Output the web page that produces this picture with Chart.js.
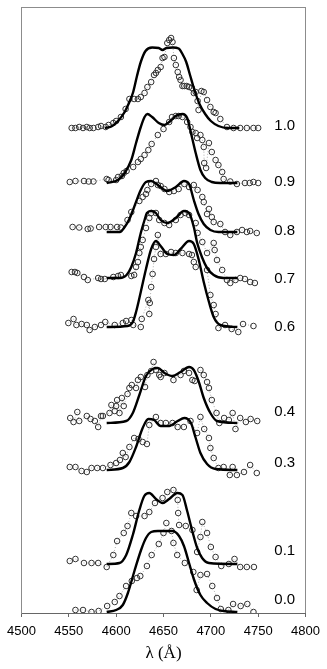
<!DOCTYPE html>
<html><head><meta charset="utf-8">
<script src="https://cdn.jsdelivr.net/npm/chart.js@4.4.1/dist/chart.umd.min.js"></script>
<style>html,body{margin:0;padding:0;background:#fff}canvas{display:block}</style>
</head><body>
<canvas id="c" width="327" height="669"></canvas>
<script>
// Phase labels, vertical offsets (continuum level of each profile) and label levels
const phases = ['1.0','0.9','0.8','0.7','0.6','0.4','0.3','0.1','0.0'];
const offsets = [4.85, 4.30, 3.81, 3.35, 2.86, 1.90, 1.43, 0.49, 0.01];
const labelLevels = [4.87, 4.31, 3.82, 3.34, 2.86, 2.01, 1.50, 0.62, 0.13];
const xTicks = [4500, 4550, 4600, 4650, 4700, 4750, 4800];

// Model profiles (solid lines): wavelength (Å) and relative flux above continuum
const line10L = [4588,4595,4602,4609,4614,4618,4622,4626,4631,4638,4645,4649,4653,4660,4666,4670,4674,4678,4682,4688,4694,4700,4708,4718,4730];
const line10V = [0,0.015,0.07,0.16,0.26,0.36,0.52,0.66,0.77,0.805,0.80,0.78,0.80,0.805,0.795,0.74,0.66,0.53,0.40,0.24,0.14,0.07,0.02,0,0];
const line09L = [4590,4602,4609,4616,4621,4626,4630,4633,4638,4645,4651,4656,4663,4670,4675,4680,4684,4689,4694,4701,4710,4728];
const line09V = [0,0.03,0.10,0.23,0.40,0.56,0.66,0.69,0.66,0.60,0.58,0.61,0.67,0.69,0.65,0.46,0.30,0.13,0.05,0.01,0,0];
const line08L = [4590,4604,4609,4614,4619,4626,4631.5,4637,4644,4654,4663,4671.6,4677,4682,4687,4692.5,4699.5,4708,4728];
const line08V = [0,0,0.05,0.13,0.25,0.42,0.50,0.51,0.47,0.41,0.45,0.51,0.48,0.32,0.18,0.08,0.02,0,0];
const line07L = [4590,4604,4611,4616,4621,4626,4630,4632.5,4637,4642,4647,4654,4663,4671.6,4677,4682,4685.6,4691,4696,4703,4713.5,4728];
const line07V = [0,0,0.03,0.11,0.25,0.45,0.58,0.65,0.67,0.65,0.58,0.55,0.60,0.67,0.65,0.51,0.35,0.20,0.10,0.03,0,0];
const line06L = [4590,4612,4617.6,4621,4626,4631.5,4637,4642,4647,4654,4661,4668,4677,4682,4687,4692.5,4698,4703,4710,4728];
const line06V = [0,0.01,0.05,0.15,0.35,0.58,0.78,0.86,0.81,0.73,0.72,0.78,0.86,0.83,0.68,0.45,0.25,0.10,0.02,0];
const line04L = [4590,4610.6,4617.6,4624.5,4631.5,4638.5,4644,4651,4659.5,4668,4677,4682,4687,4692.5,4699.5,4706.5,4728];
const line04V = [0,0.02,0.10,0.28,0.47,0.54,0.55,0.50,0.47,0.51,0.56,0.53,0.42,0.25,0.10,0.02,0];
const line03L = [4590,4607,4614,4621,4628,4634,4640,4647,4656,4665,4672,4679,4684,4689,4696,4705,4728];
const line03V = [0,0.02,0.08,0.23,0.42,0.51,0.50,0.44,0.44,0.49,0.52,0.47,0.32,0.17,0.06,0.01,0];
const line01L = [4590,4603.6,4610.6,4617.6,4624.5,4629.7,4635,4642,4649,4656,4664.7,4670,4675,4680.4,4685.6,4690.8,4698,4728];
const line01V = [0,0.01,0.09,0.29,0.54,0.68,0.71,0.65,0.61,0.65,0.71,0.69,0.53,0.33,0.16,0.06,0.01,0];
const line00L = [4590,4600,4607,4612.4,4619.3,4626.3,4631.5,4637,4644,4652.5,4659.5,4666.4,4671.6,4677,4682,4689,4696,4705,4713.5,4728];
const line00V = [0,0.02,0.07,0.19,0.41,0.62,0.74,0.80,0.81,0.81,0.81,0.76,0.66,0.49,0.33,0.17,0.09,0.03,0.01,0];

// Observed profiles (open circles): wavelength (Å) and relative flux above continuum
const obs10L = [4553,4557,4561,4565,4569,4572,4576,4581,4584,4589,4592,4597,4600,4605,4610,4614,4619,4623,4626,4630,4633,4637,4640,4642,4644,4647,4649,4651,4654,4656,4658,4659.5,4661,4663,4665,4666.5,4668,4670,4672,4674.5,4677,4680,4682,4684,4686,4687,4690,4692.5,4696,4699.5,4703,4705,4710,4717,4724,4731,4738,4745,4750];
const obs10V = [0,0,0.01,0,0.01,0,0,0.01,0.02,0.01,0.03,0.05,0.07,0.11,0.19,0.29,0.29,0.29,0.31,0.35,0.41,0.46,0.53,0.55,0.58,0.61,0.70,0.71,0.85,0.88,0.90,0.86,0.70,0.63,0.56,0.51,0.48,0.42,0.42,0.42,0.41,0.40,0.35,0.36,0.27,0.18,0.37,0.36,0.28,0.21,0.16,0.15,0.09,0.01,0,0,0,0,0];
const obs09L = [4551,4557,4566,4571,4576,4590,4592,4600,4602,4606,4608,4611,4618,4623,4626,4630,4634,4637.5,4644,4650,4656,4659,4663,4666,4670,4675,4678.5,4680.5,4684,4685.5,4689,4691,4692.5,4693,4695,4698,4701,4705,4708,4712,4713.5,4720.5,4727.5,4736,4741,4745,4750];
const obs09V = [0.01,0.02,0.02,0.015,0.015,0.04,0.03,0.03,0.06,0.07,0.10,0.12,0.16,0.21,0.24,0.28,0.33,0.39,0.48,0.54,0.61,0.66,0.67,0.67,0.66,0.61,0.56,0.51,0.50,0.45,0.48,0.43,0.36,0.20,0.15,0.40,0.31,0.23,0.18,0.11,0.04,0.015,-0.01,0,0,0.01,0];
const obs08L = [4554,4561,4570,4573,4582,4589,4594,4601,4605,4612,4616,4624.5,4628,4631.5,4633,4637,4642,4644,4647,4651,4656,4661,4666,4672,4677,4682,4686,4691,4692.5,4696,4698,4701,4703,4710,4715,4720.5,4727.5,4733,4738,4741.5,4748.5];
const obs08V = [0.05,0.045,0.03,0.035,0.05,0.05,0.05,0.05,0.045,0.12,0.20,0.31,0.35,0.38,0.42,0.48,0.51,0.47,0.46,0.43,0.40,0.41,0.43,0.48,0.45,0.47,0.42,0.35,0.30,0.18,0.23,0.15,0.10,0.08,0,-0.03,0,0.02,0,0.01,-0.01];
const obs07L = [4553,4556.5,4559,4566,4570,4581,4584,4588,4597,4602,4605,4616,4619,4621,4623,4624.5,4626,4628,4631.5,4635,4637,4642,4645.5,4651,4656,4663,4668,4673,4677,4684,4686,4691,4696,4703,4704,4706.5,4712,4717,4720.5,4726,4731,4736,4741.5,4746.5];
const obs07V = [0.06,0.06,0.05,0.01,-0.02,0,-0.01,-0.01,0.01,0.02,0.03,0.02,0.03,0.11,0.16,0.25,0.31,0.38,0.50,0.60,0.65,0.65,0.58,0.55,0.53,0.58,0.63,0.65,0.63,0.55,0.45,0.36,0.25,0.35,0.28,0.18,0.08,-0.02,-0.05,-0.02,0,-0.01,-0.04,-0.05];
const obs06L = [4549.5,4555,4558,4563.5,4569,4572,4577.5,4584,4588.5,4598.5,4607,4610.5,4616,4618,4626,4627,4634,4635,4635.5,4637,4638.5,4640,4642,4644,4647,4652.5,4658,4663,4670,4677,4680,4682,4684,4696,4699.5,4703,4705,4708,4715,4722,4729,4734,4745];
const obs06V = [0.04,0.08,0.02,0.03,0.02,-0.03,0,0.02,0.05,0.02,0.04,0.06,0.07,0.02,0,0.08,0.27,0.13,0.24,0.40,0.53,0.68,0.80,0.92,0.73,0.73,0.75,0.74,0.74,0.73,0.72,0.65,0.60,0.57,0.32,0.22,0.13,-0.01,0.02,-0.02,-0.05,0.03,0.01];
const obs04L = [4551.5,4555,4559,4561,4569,4573,4577.5,4581,4584,4586,4593,4595,4598.5,4600,4601,4603.5,4606,4608,4612,4614,4616.5,4621,4623,4626,4630.5,4633,4637,4639.5,4642,4645.5,4647,4651,4660.5,4668,4671.5,4677,4680.5,4683,4689,4692.5,4696,4698,4701,4706,4709,4714,4719,4723,4726,4731,4737,4742,4749];
const obs04V = [0.05,0.01,0.11,0.02,0.07,0.04,0.02,-0.04,0.07,0.07,0.10,0.18,0.12,0.17,0.23,0.10,0.25,0.17,0.29,0.35,0.38,0.35,0.43,0.46,0.36,0.48,0.52,0.61,0.53,0.48,0.46,0.50,0.43,0.48,0.52,0.50,0.43,0.42,0.53,0.48,0.41,0.35,0.23,0.10,0,0.05,0.03,0.10,-0.06,0.05,0.01,0.04,0.02];
const obs03L = [4551,4557,4563.5,4569,4574,4580,4586,4594,4600,4604,4607,4610,4614,4619,4623.5,4628,4632.5,4635,4642,4647,4652.5,4659.5,4665,4671.5,4678.5,4685.5,4689,4693,4698,4699.5,4703,4708,4713.5,4720,4723,4727.5,4735,4741.5,4748.5];
const obs03V = [0.03,0.03,-0.01,-0.02,0.02,0.02,0.02,0.05,0.07,0.10,0.17,0.13,0.23,0.32,0.31,0.28,0.26,0.45,0.53,0.47,0.47,0.47,0.43,0.43,0.49,0.37,0.53,0.41,0.32,0.22,0.12,0.02,0.03,-0.05,0.03,-0.05,-0.02,0.05,-0.03];
const obs01L = [4551,4557,4566,4574,4581,4590,4597,4601,4608,4612,4616,4621,4630,4635,4641,4649,4654,4660.5,4665,4665.5,4666.5,4673.5,4680.5,4685.5,4689,4691,4696,4700,4705,4711,4719,4725,4731,4738,4745.5];
const obs01V = [0.03,0.05,0.01,0.01,0.01,-0.03,0.09,0.23,0.31,0.38,0.51,0.48,0.48,0.52,0.61,0.66,0.72,0.74,0.64,0.51,0.39,0.38,0.34,0.12,0.27,0.42,0.31,0.17,0.07,-0.02,0,0.05,-0.03,-0.03,-0.03];
const obs00L = [4557,4565,4574,4581.5,4590.5,4598.5,4603.5,4610.5,4616.5,4622,4625.5,4632.5,4637.5,4645,4650,4653,4658.5,4660.5,4664.5,4672.5,4681.5,4685,4689,4696,4701.5,4706.5,4710.5,4718.5,4723.5,4731.5,4738.5,4745];
const obs00V = [0.02,0.02,0,0.01,0.06,0.10,0.16,0.26,0.31,0.34,0.36,0.46,0.57,0.68,0.79,0.89,0.81,0.69,0.57,0.49,0.40,0.22,0.37,0.38,0.26,0.14,0.03,0.02,0.08,0.06,0.08,0];

const lineL = [line10L,line09L,line08L,line07L,line06L,line04L,line03L,line01L,line00L];
const lineV = [line10V,line09V,line08V,line07V,line06V,line04V,line03V,line01V,line00V];
const obsL = [obs10L,obs09L,obs08L,obs07L,obs06L,obs04L,obs03L,obs01L,obs00L];
const obsV = [obs10V,obs09V,obs08V,obs07V,obs06V,obs04V,obs03V,obs01V,obs00V];

const datasets = [];
phases.forEach((p, i) => {
  datasets.push({
    label: 'model ' + p,
    data: lineL[i].map((x, j) => ({x: x, y: offsets[i] + lineV[i][j]})),
    showLine: true, borderColor: '#000', borderWidth: 2.4, pointRadius: 0,
    cubicInterpolationMode: 'monotone', fill: false, order: 0
  });
  datasets.push({
    label: 'observed ' + p,
    data: obsL[i].map((x, j) => ({x: x, y: offsets[i] + obsV[i][j]})),
    showLine: true, borderColor: '#9a9a9a', borderWidth: 0.8, borderDash: [1, 2],
    pointRadius: 2.8, pointBorderColor: '#333', pointBorderWidth: 1,
    pointBackgroundColor: 'rgba(255,255,255,0)', tension: 0, fill: false, order: 1
  });
});

const FRAME = '#8c8c8c';
const labelPlugin = {
  id: 'phaseLabels',
  afterDatasetsDraw(chart) {
    const ctx = chart.ctx, xs = chart.scales.x, ys = chart.scales.y;
    ctx.save();
    ctx.fillStyle = '#000';
    ctx.font = '15px "Liberation Sans", Arial, sans-serif';
    ctx.textAlign = 'left'; ctx.textBaseline = 'middle';
    phases.forEach((p, i) => {
      ctx.fillText(p, xs.getPixelForValue(4767), ys.getPixelForValue(labelLevels[i]));
    });
    ctx.restore();
  }
};

new Chart(document.getElementById('c'), {
  type: 'scatter',
  data: {datasets: datasets},
  options: {
    responsive: false, animation: false, devicePixelRatio: 1,
    layout: {padding: {left: 19, right: 21, top: 7, bottom: 0}},
    plugins: {legend: {display: false}, tooltip: {enabled: false}},
    scales: {
      x: {
        type: 'linear', min: 4500, max: 4800,
        afterBuildTicks(s) { s.ticks = xTicks.map(v => ({value: v})); },
        afterFit(s) { s.height = 56; },
        ticks: {color: '#000', font: {family: '"Liberation Sans", Arial, sans-serif', size: 13}, padding: 7, maxRotation: 0, callback: v => String(v)},
        grid: {
          drawOnChartArea: true, drawTicks: true, tickLength: 4, lineWidth: 1,
          color: c => (c.tick && (c.tick.value === 4500 || c.tick.value === 4800)) ? FRAME : 'rgba(0,0,0,0)',
          tickColor: '#666'
        },
        border: {color: '#666', width: 1},
        title: {display: true, text: 'λ (Å)', color: '#000', font: {family: '"Liberation Serif", "Times New Roman", serif', size: 17}, padding: {top: 0, bottom: 5}}
      },
      y: {
        type: 'linear', display: true, min: 0, max: 6.06,
        afterBuildTicks(s) { s.ticks = [{value: 0}, {value: 6.06}]; },
        afterFit(s) { s.width = 0; },
        ticks: {display: false},
        grid: {
          drawOnChartArea: true, drawTicks: false, lineWidth: 1,
          color: c => (c.tick && c.tick.value > 6) ? FRAME : 'rgba(0,0,0,0)'
        },
        border: {display: true, color: FRAME, width: 1}
      }
    }
  },
  plugins: [labelPlugin]
});
</script>
</body></html>
